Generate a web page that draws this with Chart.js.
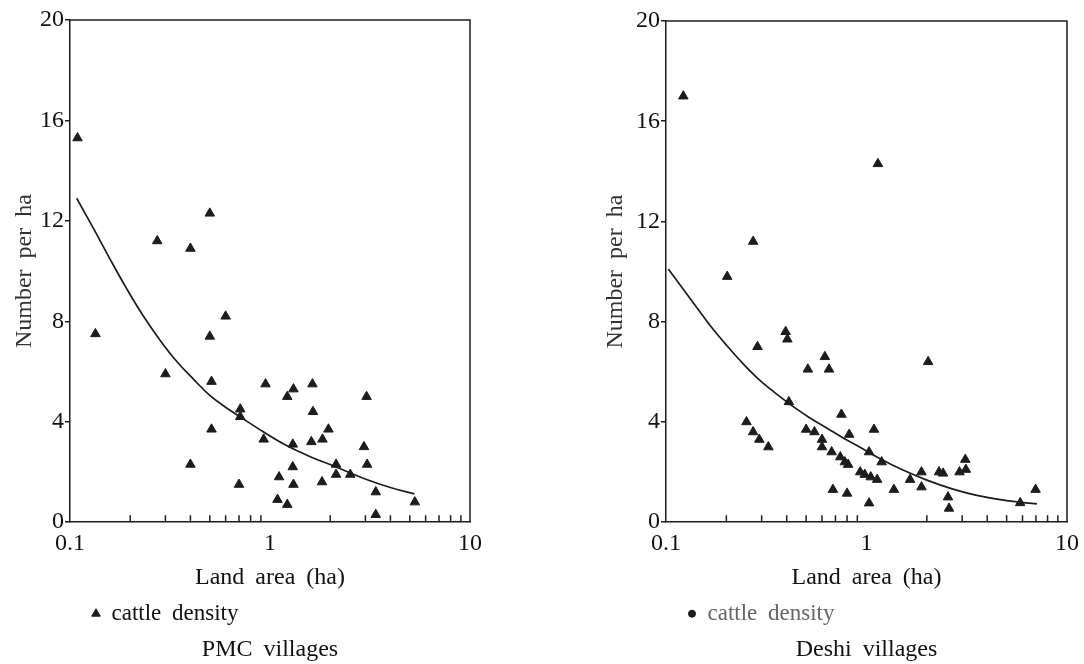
<!DOCTYPE html>
<html>
<head>
<meta charset="utf-8">
<script src="https://cdn.jsdelivr.net/npm/chart.js@4/dist/chart.umd.min.js"></script>
<style>
  html, body { margin: 0; padding: 0; background: #fff; }
  #wrap { position: relative; width: 1084px; height: 664px; }
  #pmc { position: absolute; left: 0; top: 0; }
  #deshi { position: absolute; left: 540px; top: 0; }
</style>
</head>
<body>
<div id="wrap">
  <canvas id="pmc" width="540" height="664"></canvas>
  <canvas id="deshi" width="544" height="664"></canvas>
</div>
<script>
// PMC villages: land area (ha) vs cattle per ha
const pmcArea = [0.109, 0.273, 0.40, 0.50, 0.60, 0.134, 0.50, 0.30, 0.51, 0.95,
  1.22, 1.31, 1.63, 1.64, 3.04, 0.71, 0.71, 0.51, 1.96, 0.93,
  1.61, 1.83, 1.30, 2.95, 0.40, 1.30, 2.14, 3.06, 2.14, 2.52,
  1.11, 0.70, 1.31, 1.82, 1.09, 1.22, 3.38, 3.38, 5.3];
const pmcDensity = [15.3, 11.2, 10.9, 12.3, 8.2, 7.5, 7.4, 5.9, 5.6, 5.5,
  5.0, 5.3, 5.5, 4.4, 5.0, 4.5, 4.2, 3.7, 3.7, 3.3,
  3.2, 3.3, 3.1, 3.0, 2.3, 2.2, 2.3, 2.3, 1.9, 1.9,
  1.8, 1.5, 1.5, 1.6, 0.9, 0.7, 1.2, 0.3, 0.8];
const pmcFitArea = [0.108, 0.131, 0.158, 0.192, 0.233, 0.282, 0.342, 0.414, 0.5,
  0.607, 0.708, 0.926, 1.21, 1.6, 2.14, 3.04, 4.0, 5.27];
const pmcFitDensity = [12.9, 11.7, 10.5, 9.3, 8.2, 7.25, 6.4, 5.7, 5.05,
  4.55, 4.2, 3.6, 3.05, 2.6, 2.2, 1.7, 1.38, 1.13];

// Deshi villages
const deshiArea = [0.122, 1.14, 0.272, 0.202, 0.395, 0.403, 0.286, 0.62, 0.65, 0.51,
  2.03, 0.41, 0.252, 0.272, 0.292, 0.324, 0.50, 0.55, 0.60, 0.60,
  0.67, 0.75, 0.82, 1.09, 0.74, 0.78, 0.81, 1.03, 1.19, 0.93,
  0.98, 1.05, 1.13, 0.68, 0.80, 1.03, 1.37, 1.65, 1.88, 1.88,
  2.30, 2.41, 2.55, 2.58, 2.91, 3.11, 3.13, 5.84, 6.97];
const deshiDensity = [17.0, 14.3, 11.2, 9.8, 7.6, 7.3, 7.0, 6.6, 6.1, 6.1,
  6.4, 4.8, 4.0, 3.6, 3.3, 3.0, 3.7, 3.6, 3.3, 3.0,
  2.8, 4.3, 3.5, 3.7, 2.6, 2.4, 2.3, 2.8, 2.4, 2.0,
  1.9, 1.8, 1.7, 1.3, 1.15, 0.76, 1.3, 1.7, 2.0, 1.4,
  2.0, 1.95, 1.0, 0.55, 2.0, 2.5, 2.1, 0.77, 1.3];
const deshiFitArea = [0.1027, 0.137, 0.166, 0.201, 0.244, 0.295, 0.358, 0.433, 0.525,
  0.636, 0.77, 0.933, 1.19, 1.5, 2.0, 2.7, 3.6, 5.0, 7.08];
const deshiFitDensity = [10.1, 8.75, 7.85, 7.05, 6.3, 5.65, 5.1, 4.6, 4.15,
  3.75, 3.35, 2.98, 2.5, 2.1, 1.68, 1.32, 1.06, 0.86, 0.73];

// axes
const xTicks = [0.1, 1, 10];
const xTickLabels = ['0.1', '1', '10'];
const xMinorTicks = [0.2, 0.3, 0.4, 0.5, 0.6, 0.7, 0.8, 0.9, 2, 3, 4, 5, 6, 7, 8, 9];
const yTicks = [0, 4, 8, 12, 16, 20];

const INK = '#1c1c1c';
Chart.defaults.font.family = '"Liberation Serif", "Times New Roman", serif';
Chart.defaults.color = '#111';

const toPoints = (xs, ys) => xs.map((x, i) => ({ x: x, y: ys[i] }));

// box around plot, small inward ticks on the log axis, legend nudge
const framePlugin = {
  id: 'frame',
  beforeLayout(chart) { chart.ctx.wordSpacing = '5px'; },
  afterLayout(chart) {
    if (chart.legend) {
      chart.legend.left += 12;
      chart.legend.right += 12;
    }
  },
  beforeDraw(chart) { chart.ctx.wordSpacing = '5px'; },
  afterDraw(chart) {
    const { ctx, chartArea: a } = chart;
    const x = chart.scales.x;
    ctx.save();
    ctx.strokeStyle = INK;
    ctx.lineWidth = 1.5;
    ctx.beginPath();
    ctx.moveTo(a.left, a.top);
    ctx.lineTo(a.right, a.top);
    ctx.lineTo(a.right, a.bottom);
    xMinorTicks.forEach(v => {
      const px = x.getPixelForValue(v);
      ctx.moveTo(px, a.bottom);
      ctx.lineTo(px, a.bottom - 7);
    });
    ctx.stroke();
    ctx.restore();
  }
};

function makeChart(id, opts) {
  return new Chart(document.getElementById(id), {
    type: 'scatter',
    data: {
      datasets: [{
        label: 'cattle density',
        data: toPoints(opts.area, opts.density),
        pointStyle: 'triangle',
        pointRadius: 5.5,
        pointBackgroundColor: INK,
        pointBorderColor: INK,
        pointBorderWidth: 1
      }, {
        label: 'fit',
        data: toPoints(opts.fitArea, opts.fitDensity),
        showLine: true,
        pointRadius: 0,
        borderColor: INK,
        borderWidth: 1.7,
        tension: 0.4,
        fill: false
      }]
    },
    options: {
      responsive: false,
      animation: false,
      layout: { padding: opts.padding },
      scales: {
        x: {
          type: 'logarithmic',
          min: 0.1,
          max: 10,
          afterBuildTicks: s => { s.ticks = xTicks.map(v => ({ value: v })); },
          afterFit: s => { s.height = 70; },
          ticks: {
            autoSkip: false,
            maxRotation: 0,
            padding: -1,
            color: '#111',
            font: { size: 24 },
            callback: (v, i) => xTickLabels[i]
          },
          grid: { display: false },
          border: { display: true, color: INK, width: 1.5 },
          title: {
            display: true,
            text: 'Land area (ha)',
            color: '#111',
            font: { size: 24 },
            padding: { top: 0, bottom: 0 }
          }
        },
        y: {
          min: 0,
          max: 20,
          afterBuildTicks: s => { s.ticks = yTicks.map(v => ({ value: v })); },
          afterFit: s => { s.width = 70; },
          ticks: { padding: 1, color: '#111', font: { size: 24 } },
          grid: { drawOnChartArea: false, drawTicks: true, tickLength: 5, color: INK, lineWidth: 1.5 },
          border: { display: true, color: INK, width: 1.5 },
          title: {
            display: true,
            text: 'Number per ha',
            color: '#333',
            font: { size: 24 },
            padding: { top: opts.yTitlePad, bottom: 0 }
          }
        }
      },
      plugins: {
        legend: {
          position: 'bottom',
          align: 'start',
          fullSize: false,
          labels: {
            filter: item => item.datasetIndex === 0,
            usePointStyle: true,
            pointStyle: opts.legendMarker,
            boxWidth: 8,
            boxHeight: opts.legendBox,
            padding: 10,
            color: opts.legendColor,
            font: { size: 23 }
          }
        },
        title: {
          display: true,
          position: 'bottom',
          fullSize: false,
          text: opts.caption,
          color: '#111',
          font: { size: 24, weight: 'normal' },
          padding: 0
        },
        tooltip: { enabled: false }
      }
    },
    plugins: [framePlugin]
  });
}

makeChart('pmc', {
  area: pmcArea, density: pmcDensity,
  fitArea: pmcFitArea, fitDensity: pmcFitDensity,
  padding: { top: 20, right: 70, left: 0, bottom: 0 },
  yTitlePad: 10,
  legendMarker: 'triangle', legendBox: 7, legendColor: '#111',
  caption: 'PMC villages'
});

makeChart('deshi', {
  area: deshiArea, density: deshiDensity,
  fitArea: deshiFitArea, fitDensity: deshiFitDensity,
  padding: { top: 21, right: 17, left: 56, bottom: 0 },
  yTitlePad: 5,
  legendMarker: 'circle', legendBox: 5, legendColor: '#666',
  caption: 'Deshi villages'
});
</script>
</body>
</html>
